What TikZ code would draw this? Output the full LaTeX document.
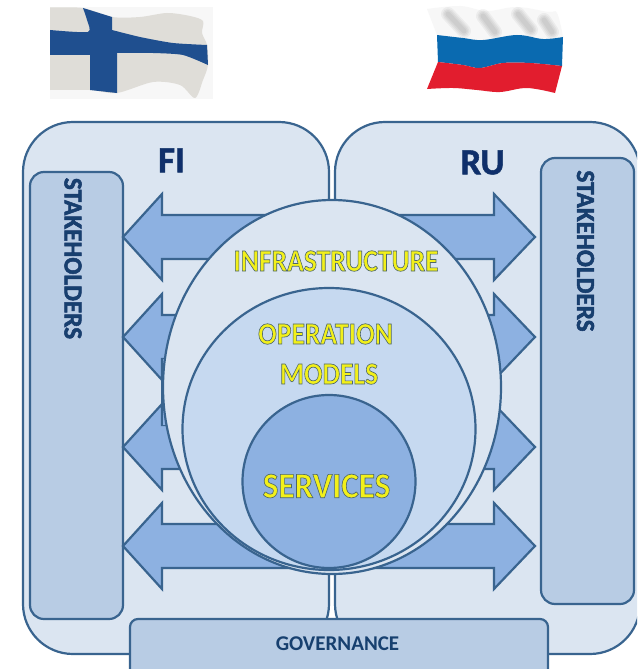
\documentclass[tikz,border=0pt]{standalone}
\usepackage{fontspec}
\setmainfont{Carlito}
\usetikzlibrary{shapes.geometric}
\definecolor{edge}{HTML}{39648F}
\definecolor{panelfill}{HTML}{DBE5F1}
\definecolor{boxfill}{HTML}{B8CCE4}
\definecolor{arrowfill}{HTML}{8DB1E1}
\definecolor{midfill}{HTML}{C6D9F0}
\definecolor{inkblue}{HTML}{17406F}
\definecolor{titleblue}{HTML}{0F2F6B}
\definecolor{textyellow}{HTML}{F2F01A}
\definecolor{finblue}{HTML}{1F4F8F}
\definecolor{finwhite}{HTML}{DFDDD8}
\definecolor{rublue}{HTML}{0A6AB0}
\definecolor{rured}{HTML}{E21D2E}
\newcommand{\outlined}[1]{{\bfseries\color{textyellow}\special{pdf:code q 2 Tr 0.65 w 0.30 0.40 0.42 RG}#1\special{pdf:code Q}}}
\newcommand{\heavy}[2]{{\bfseries\color{#1}\special{pdf:code q 2 Tr 0.5 w 0.09 0.22 0.42 RG}#2\special{pdf:code Q}}}
\newcommand{\softfold}[5]{%
  \foreach \w in {14,11,8,5}
    \draw[#1,line width=\w pt,opacity=.045,line cap=round] (#2,#3) -- (#4,#5);}
\tikzset{
  line/.style={draw=edge,line width=2.2pt},
  panel/.style={line,fill=panelfill,rounded corners=50pt},
  sidebox/.style={line,fill=boxfill,rounded corners=14pt},
  blockarrow/.style={line,fill=arrowfill,line join=miter},
  ring/.style={line,shape=ellipse,inner sep=0pt},
  title/.style={font=\bfseries\fontsize{37}{37}\selectfont},
  sidetext/.style={font=\bfseries\fontsize{26}{26}\selectfont,rotate=-90,xscale=.97,transform shape},
  glowtext/.style={font=\fontsize{31}{31}\selectfont,xscale=.89,transform shape},
}
\newcommand{\dblarrow}[1]{%
  \draw[blockarrow] (123,#1) -- (162,#1-43) -- (162,#1-22) -- (494,#1-22) -- (494,#1-43)
    -- (535,#1) -- (494,#1+43) -- (494,#1+22) -- (162,#1+22) -- (162,#1+43) -- cycle;}
\begin{document}
\begin{tikzpicture}[x=1pt,y=-1pt]
\clip (0,0) rectangle (637,669);
\fill[white] (0,0) rectangle (637,669);
% Finnish flag
\fill[black!3!white] (50,7) rectangle (213,99);
\fill[finwhite] plot[smooth,tension=.5] coordinates {(50,7.5) (83,8) (112,17) (140,17) (167,13) (190,16) (203,21) (202,33) (207,45) (208,65) (203,80) (195,98) (180,85) (153,82) (117,93) (90,90) (50,90)} -- cycle;
\fill[finblue] plot[smooth,tension=.4] coordinates {(83,8) (87,20) (88,32) (50,30)} -- (50,55) -- (90,55) -- (90,90) -- (117,93) -- (117,55) -- plot[smooth,tension=.4] coordinates {(117,53) (153,53) (183,55) (208,65)} -- (207,45) -- plot[smooth,tension=.4] coordinates {(207,45) (173,43) (140,37) (112,30)} -- (112,17) -- cycle;
% Russian flag
\fill[white!97!black] plot[smooth,tension=.6] coordinates {(427,9) (460,6) (487,11) (517,7) (548,12) (557,13) (563,37)} -- plot[smooth,tension=.6] coordinates {(563,37) (543,39) (517,35) (483,40) (463,38) (437,35)} -- cycle;
\softfold{black}{448}{14}{464}{31}
\softfold{black}{483}{16}{495}{32}
\softfold{black}{518}{14}{531}{30}
\softfold{black}{544}{20}{552}{32}
\fill[rublue] plot[smooth,tension=.6] coordinates {(437,35) (463,38) (483,40) (517,35) (543,39) (563,37)} -- plot[smooth,tension=.6] coordinates {(562,66) (530,63) (503,63) (480,68) (463,65) (438,62)} -- cycle;
\fill[rured] plot[smooth,tension=.6] coordinates {(438,62) (463,65) (480,68) (503,63) (530,63) (562,66)} -- plot[smooth,tension=.6] coordinates {(555,93) (527,88) (500,92) (477,90) (453,88) (427,89)} -- cycle;
% panels
\draw[panel] (23,122) rectangle (329,654);
\draw[panel] (335,122) rectangle (640,654);
\node[title] (fi) at (171.5,160.5) {\heavy{titleblue}{FI}};
\node[title] (ru) at (482.5,162.5) {\heavy{titleblue}{RU}};
% side boxes
\draw[sidebox] (30,172) rectangle (123,619);
\draw[sidebox] (541,158) rectangle (634,604);
\node[sidetext] (stakel) at (73,258.5) {\heavy{inkblue}{STAKEHOLDERS}};
\node[sidetext] (staker) at (585.5,251) {\heavy{inkblue}{STAKEHOLDERS}};
% arrows
\dblarrow{237}
\dblarrow{337}
\dblarrow{447}
\dblarrow{546}
\fill[arrowfill] (162,359) rectangle (170,425);
\draw[line] (162,359) -- (162,425);
% rings
\node[ring,fill=panelfill,minimum width=338pt,minimum height=374pt] (infra) at (332,387) {};
\node[ring,fill=midfill,minimum width=293pt,minimum height=282pt] (oper) at (329,429) {};
\node[ring,fill=arrowfill,minimum width=173pt,minimum height=173pt] (serv) at (329,481.5) {};
\node[glowtext] (infratext) at (336,261) {\outlined{INFRASTRUCTURE}};
\node[glowtext] (opertext) at (325.5,334) {\outlined{OPERATION}};
\node[glowtext] (modeltext) at (329,374) {\outlined{MODELS}};
\node[font=\fontsize{36}{36}\selectfont,xscale=.92,transform shape] (servtext) at (326.5,486) {\outlined{SERVICES}};
% governance
\draw[line,fill=boxfill,rounded corners=8pt] (130,619) rectangle (548,680);
\node[font=\bfseries\fontsize{21}{21}\selectfont,text=inkblue] (gov) at (337.5,643.5) {GOVERNANCE};
\end{tikzpicture}
\end{document}
